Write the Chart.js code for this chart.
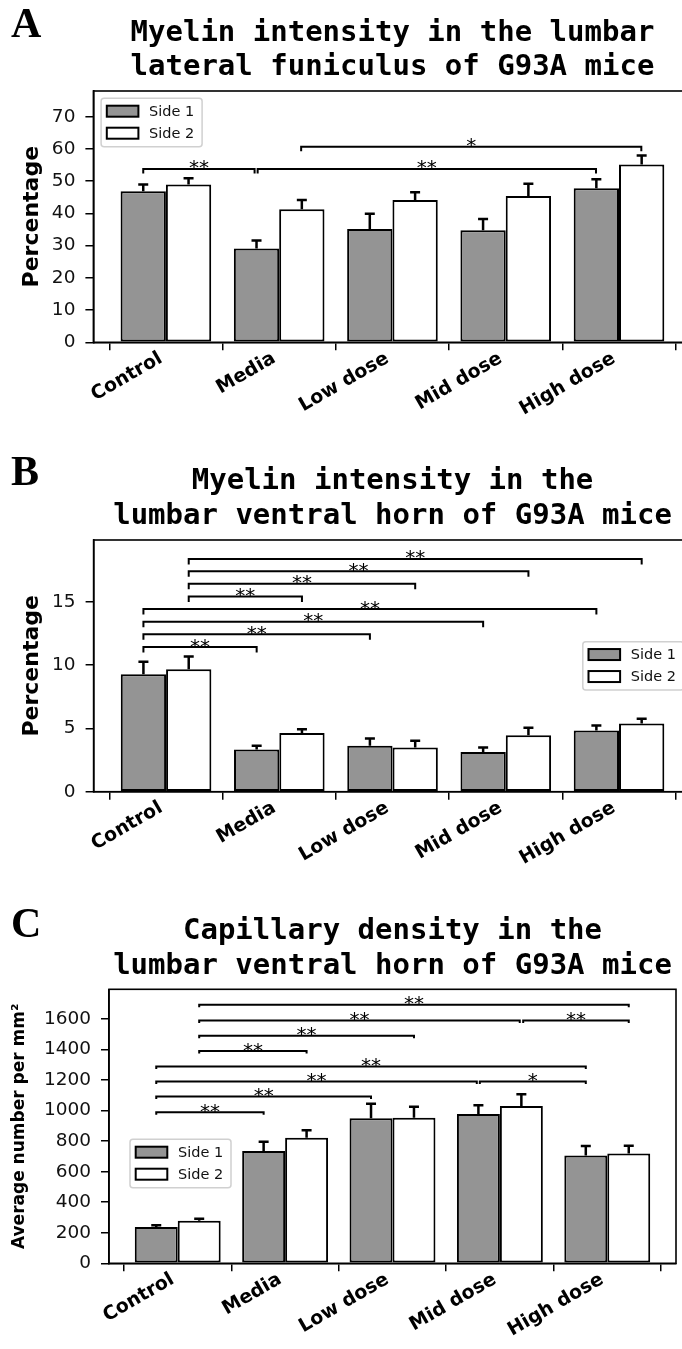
<!DOCTYPE html>
<html lang="en">
<head>
<meta charset="UTF-8">
<title>Myelin intensity and capillary density in G93A mice</title>
<script src="https://cdn.jsdelivr.net/npm/chart.js"></script>
<style>
    html, body {
        margin: 0;
        padding: 0;
        background: #fff;
        overflow: hidden;
    }
    .panel {
        width: 700px;
    }
    canvas {
        display: block;
    }
</style>
</head>
<body>
<div class="panel"><canvas id="chartA" width="700" height="450"></canvas></div>
<div class="panel"><canvas id="chartB" width="700" height="450"></canvas></div>
<div class="panel"><canvas id="chartC" width="700" height="449"></canvas></div>

<script>
const groups = ['Control', 'Media', 'Low dose', 'Mid dose', 'High dose'];
const sides = ['Side 1', 'Side 2'];

// A - myelin, lateral funiculus (%)
const aSide1 = [46.9, 29.1, 35.2, 34.8, 47.8];
const aSide2 = [49.0, 41.3, 44.2, 45.4, 55.2];
const aErr1 = [2.1, 2.5, 4.7, 3.5, 2.8];
const aErr2 = [1.9, 2.9, 2.4, 3.8, 2.8];
const aTicks = [0, 10, 20, 30, 40, 50, 60, 70];
// significance brackets: [from, to, height, label] (x in group units)
const aSig = [
    [-0.2, 0.783, 53.8, '**'],
    [0.81, 3.797, 53.8, '**'],
    [1.194, 4.197, 60.7, '*']
];

// B - myelin, ventral horn (%)
const bSide1 = [9.29, 3.34, 3.64, 3.13, 4.83];
const bSide2 = [9.69, 4.65, 3.50, 4.46, 5.39];
const bErr1 = [0.98, 0.30, 0.56, 0.37, 0.40];
const bErr2 = [1.00, 0.29, 0.53, 0.60, 0.37];
const bTicks = [0, 5, 10, 15];
const bSig = [
    [0.2, 4.2, 18.4, '**'],
    [0.2, 3.2, 17.42, '**'],
    [0.2, 2.2, 16.44, '**'],
    [0.2, 1.2, 15.43, '**'],
    [-0.2, 3.8, 14.44, '**'],
    [-0.2, 2.8, 13.44, '**'],
    [-0.2, 1.8, 12.45, '**'],
    [-0.2, 0.8, 11.44, '**']
];

// C - capillary density (per mm2)
const cSide1 = [237, 735, 950, 978, 706];
const cSide2 = [278, 822, 954, 1031, 719];
const cErr1 = [13, 61, 96, 57, 62];
const cErr2 = [14, 49, 72, 76, 51];
const cTicks = [0, 200, 400, 600, 800, 1000, 1200, 1400, 1600];
const cSig = [
    [0.2, 4.2, 1693, '**'],
    [0.2, 3.185, 1590, '**'],
    [3.217, 4.2, 1590, '**'],
    [0.2, 2.2, 1490, '**'],
    [0.2, 1.2, 1390, '**'],
    [-0.2, 3.8, 1290, '**'],
    [-0.2, 2.785, 1191, '**'],
    [2.813, 3.8, 1191, '*'],
    [-0.2, 1.8, 1092, '**'],
    [-0.2, 0.8, 990, '**']
];

const GREY = '#949494';

// error bars (upper half only), drawn from the bar elements
const errorBars = {
    id: 'errorBars',
    afterDatasetsDraw(chart) {
        const ctx = chart.ctx;
        const ys = chart.scales.y;
        chart.data.datasets.forEach((ds, di) => {
            chart.getDatasetMeta(di).data.forEach((bar, i) => {
                const top = ys.getPixelForValue(ds.data[i].y + ds.errors[i]);
                ctx.save();
                ctx.strokeStyle = '#000';
                ctx.lineWidth = 2.5;
                ctx.beginPath();
                ctx.moveTo(bar.x, bar.y);
                ctx.lineTo(bar.x, top);
                ctx.moveTo(bar.x - 5, top);
                ctx.lineTo(bar.x + 5, top);
                ctx.stroke();
                ctx.restore();
            });
        });
    }
};

// significance brackets with stars
const brackets = {
    id: 'brackets',
    afterDraw(chart, args, opts) {
        const ctx = chart.ctx;
        const xs = chart.scales.x, ys = chart.scales.y;
        ctx.save();
        ctx.strokeStyle = '#000';
        ctx.fillStyle = '#000';
        ctx.lineWidth = 2;
        ctx.font = '20px "DejaVu Sans"';
        ctx.textAlign = 'center';
        ctx.textBaseline = 'alphabetic';
        (opts.items || []).forEach(([x1, x2, v, label]) => {
            const p1 = xs.getPixelForValue(x1);
            const p2 = xs.getPixelForValue(x2);
            const py = ys.getPixelForValue(v);
            ctx.beginPath();
            ctx.moveTo(p1, py + opts.tick);
            ctx.lineTo(p1, py);
            ctx.lineTo(p2, py);
            ctx.lineTo(p2, py + opts.tick);
            ctx.stroke();
            ctx.fillText(label, (p1 + p2) / 2, py + 5.5);
        });
        ctx.restore();
    }
};

// full box around the plot area
const frame = {
    id: 'frame',
    afterDraw(chart) {
        const {left, top, right, bottom} = chart.chartArea;
        const ctx = chart.ctx;
        ctx.save();
        ctx.strokeStyle = '#000';
        ctx.lineWidth = 1.6;
        ctx.strokeRect(left, top, right - left, bottom - top);
        ctx.restore();
    }
};

// legend box drawn inside the plot area
const boxLegend = {
    id: 'boxLegend',
    afterDraw(chart, args, opts) {
        const ctx = chart.ctx;
        const pos = opts.place(chart.chartArea);
        const w = 101, h = 48.4;
        ctx.save();
        ctx.fillStyle = 'rgba(255,255,255,0.8)';
        ctx.strokeStyle = '#d0d0d0';
        ctx.lineWidth = 1.5;
        ctx.beginPath();
        ctx.roundRect(pos.x, pos.y, w, h, 3);
        ctx.fill();
        ctx.stroke();
        ctx.font = '14.5px "DejaVu Sans"';
        ctx.textBaseline = 'middle';
        ctx.textAlign = 'left';
        chart.data.datasets.forEach((ds, i) => {
            const cy = pos.y + 12.9 + i * 22;
            ctx.fillStyle = ds.backgroundColor;
            ctx.fillRect(pos.x + 5.7, cy - 5.5, 31.6, 11);
            ctx.strokeStyle = '#000';
            ctx.lineWidth = 2;
            ctx.strokeRect(pos.x + 5.7, cy - 5.5, 31.6, 11);
            ctx.fillStyle = '#111';
            ctx.fillText(ds.label, pos.x + 48, cy + 1);
        });
        ctx.restore();
    }
};

// panel letter in the top-left corner
const panelLetter = {
    id: 'panelLetter',
    afterDraw(chart, args, opts) {
        const ctx = chart.ctx;
        ctx.save();
        ctx.fillStyle = '#000';
        ctx.font = 'bold 42px "Liberation Serif"';
        ctx.textBaseline = 'alphabetic';
        ctx.fillText(opts.text, 11, opts.y);
        ctx.restore();
    }
};

function makeChart(id, cfg) {
    const toPoints = arr => arr.map((v, i) => ({x: i, y: v}));
    new Chart(document.getElementById(id), {
        type: 'bar',
        data: {
            datasets: [
                {
                    label: sides[0], data: toPoints(cfg.s1), errors: cfg.e1,
                    backgroundColor: GREY, borderColor: '#000', borderWidth: 2, borderSkipped: false
                },
                {
                    label: sides[1], data: toPoints(cfg.s2), errors: cfg.e2,
                    backgroundColor: '#ffffff', borderColor: '#000', borderWidth: 2, borderSkipped: false
                }
            ]
        },
        options: {
            responsive: false,
            animation: false,
            devicePixelRatio: 1,
            categoryPercentage: 0.8,
            barPercentage: 1.0,
            layout: { padding: { left: 0, right: cfg.padRight, top: 0, bottom: 0 } },
            scales: {
                x: {
                    type: 'linear',
                    min: -0.64,
                    max: 4.64,
                    offset: false,
                    afterBuildTicks: s => { s.ticks = groups.map((g, i) => ({ value: i })); },
                    ticks: {
                        autoSkip: false,
                        minRotation: 30,
                        maxRotation: 30,
                        padding: -3,
                        labelOffset: -5,
                        color: '#000',
                        font: { family: 'DejaVu Sans', size: 19, weight: 'bold' },
                        callback: v => groups[v]
                    },
                    grid: { drawOnChartArea: false, drawTicks: true, tickLength: 8, color: '#000', lineWidth: 1.5 },
                    border: { display: true, color: '#000', width: 1.6 },
                    afterFit: s => { s.height = cfg.xHeight; }
                },
                y: {
                    min: 0,
                    max: cfg.yMax,
                    afterBuildTicks: s => { s.ticks = cfg.yTicks.map(v => ({ value: v })); },
                    ticks: {
                        padding: 10,
                        color: '#111',
                        font: { family: 'DejaVu Sans', size: 18.5 },
                        callback: v => String(v)
                    },
                    grid: { drawOnChartArea: false, drawTicks: true, tickLength: 8, color: '#000', lineWidth: 1.5 },
                    border: { display: true, color: '#000', width: 1.6 },
                    title: {
                        display: true,
                        text: cfg.yTitle,
                        color: '#000',
                        font: { family: 'DejaVu Sans', size: cfg.yTitleSize, weight: 'bold' },
                        padding: { top: cfg.yTitlePad, bottom: 0 }
                    },
                    afterFit: s => { s.width = cfg.yWidth; }
                }
            },
            plugins: {
                legend: { display: false },
                tooltip: { enabled: false },
                title: {
                    display: true,
                    text: cfg.title,
                    fullSize: false,
                    color: '#000',
                    font: { family: 'DejaVu Sans Mono', size: 29, weight: 'bold', lineHeight: 1.2 },
                    padding: { top: cfg.titleTop, bottom: cfg.chartTop - cfg.titleTop - 69.6 }
                },
                brackets: { items: cfg.sig, tick: cfg.sigTick },
                boxLegend: { place: cfg.legendAt },
                panelLetter: { text: cfg.letter, y: cfg.letterY }
            }
        },
        plugins: [errorBars, brackets, frame, boxLegend, panelLetter]
    });
}

makeChart('chartA', {
    letter: 'A', letterY: 37,
    title: ['Myelin intensity in the lumbar', 'lateral funiculus of G93A mice'],
    titleTop: 15.6, chartTop: 91,
    s1: aSide1, s2: aSide2, e1: aErr1, e2: aErr2,
    sig: aSig, sigTick: 4.5,
    yMax: 78, yTicks: aTicks, yTitle: 'Percentage', yTitleSize: 22, yTitlePad: 18.8,
    yWidth: 93.4, xHeight: 107.7, padRight: 8.5,
    legendAt: a => ({ x: a.left + 7.7, y: a.top + 7.3 })
});

makeChart('chartB', {
    letter: 'B', letterY: 35,
    title: ['Myelin intensity in the', 'lumbar ventral horn of G93A mice'],
    titleTop: 14.5, chartTop: 90,
    s1: bSide1, s2: bSide2, e1: bErr1, e2: bErr2,
    sig: bSig, sigTick: 5.5,
    yMax: 19.9, yTicks: bTicks, yTitle: 'Percentage', yTitleSize: 22, yTitlePad: 18.8,
    yWidth: 93.6, xHeight: 108.3, padRight: 8.5,
    legendAt: a => ({ x: a.right - 7.7 - 101, y: (a.top + a.bottom) / 2 - 24.2 })
});

makeChart('chartC', {
    letter: 'C', letterY: 37,
    title: ['Capillary density in the', 'lumbar ventral horn of G93A mice'],
    titleTop: 14, chartTop: 89.3,
    s1: cSide1, s2: cSide2, e1: cErr1, e2: cErr2,
    sig: cSig, sigTick: 2.5,
    yMax: 1795, yTicks: cTicks, yTitle: 'Average number per mm²', yTitleSize: 17, yTitlePad: 9.8,
    yWidth: 109, xHeight: 85.7, padRight: 24,
    legendAt: a => ({ x: a.left + 21, y: 239.3 })
});
</script>
</body>
</html>
